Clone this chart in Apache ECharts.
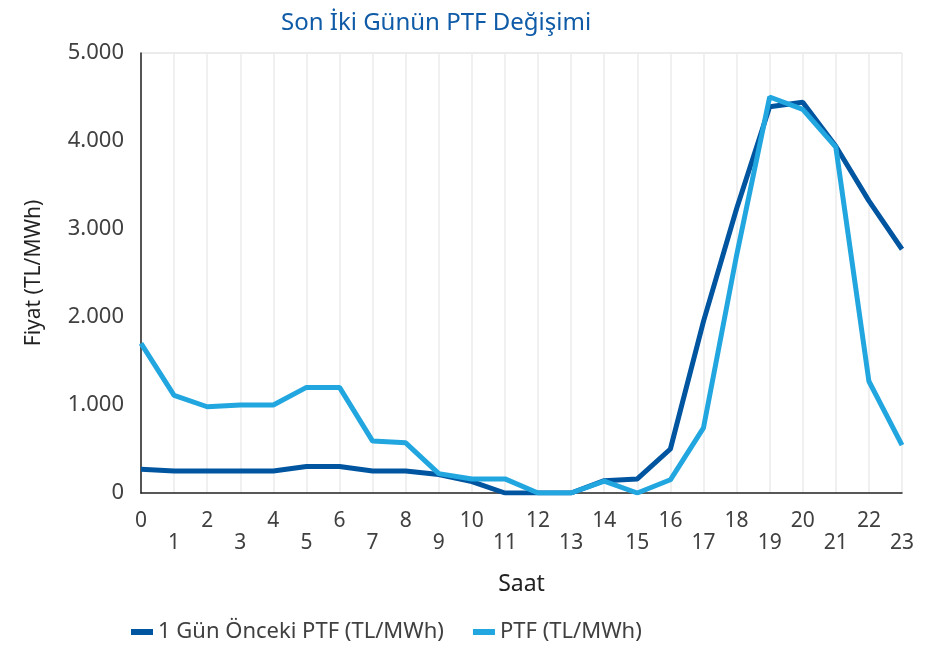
<!DOCTYPE html>
<html>
<head>
<meta charset="utf-8">
<script src="https://cdn.jsdelivr.net/npm/echarts@6/dist/echarts.min.js"></script>
<style>
  html, body { margin: 0; padding: 0; background: #fff; }
  #main { width: 941px; height: 648px; }
</style>
</head>
<body>
<div id="main"></div>
<script>
var hours = [];
for (var h = 0; h <= 23; h++) hours.push(String(h));

var oncekiPtf = [270, 250, 250, 250, 250, 300, 300, 250, 250, 210, 130, 0,
                 0, 0, 140, 160, 500, 1950, 3230, 4390, 4440, 3940, 3320, 2770];
var ptf = [1700, 1110, 980, 1000, 1000, 1200, 1200, 590, 570, 220, 160, 160,
           0, 0, 135, 0, 150, 740, 2700, 4500, 4360, 3930, 1270, 545];

var myChart = echarts.init(document.getElementById('main'));

var fontFam = 'Noto Sans';

var option = {
  animation: false,
  textStyle: { fontFamily: fontFam },
  title: {
    text: 'Son İki Günün PTF Değişimi',
    left: 276,
    top: 6,
    textStyle: { color: '#0f5ba7', fontSize: 24, fontWeight: 'normal', fontFamily: fontFam }
  },
  legend: {
    bottom: 0,
    left: 126,
    itemGap: 29,
    icon: 'rect',
    itemWidth: 22,
    itemHeight: 6,
    textStyle: { fontSize: 22, color: '#404040', fontFamily: fontFam },
    data: ['1 Gün Önceki PTF (TL/MWh)', 'PTF (TL/MWh)']
  },
  grid: { left: 141, right: 39, top: 53, bottom: 155, containLabel: false },
  xAxis: {
    type: 'category',
    data: hours,
    boundaryGap: false,
    name: 'Saat',
    nameLocation: 'middle',
    nameGap: 80,
    nameTextStyle: { fontSize: 23, color: '#222', fontFamily: fontFam },
    axisLine: { lineStyle: { color: '#222', width: 1.5 } },
    axisTick: { show: false },
    axisLabel: {
      interval: 0,
      fontSize: 21,
      color: '#404040',
      margin: 17,
      lineHeight: 22,
      formatter: function (v) { return Number(v) % 2 === 1 ? '\n' + v : v + '\n'; }
    },
    splitLine: { show: true, lineStyle: { color: '#ebebeb', width: 1.5 } }
  },
  yAxis: {
    type: 'value',
    min: 0,
    max: 5000,
    interval: 1000,
    name: 'Fiyat (TL/MWh)',
    nameLocation: 'middle',
    nameGap: 96,
    nameTextStyle: { fontSize: 21, color: '#222', fontFamily: fontFam },
    axisLine: { show: true, lineStyle: { color: '#222', width: 1.5 } },
    axisTick: { show: false },
    axisLabel: {
      fontSize: 22,
      color: '#404040',
      margin: 17,
      formatter: function (v) { return v === 0 ? '0' : (v / 1000).toFixed(0) + '.000'; }
    },
    splitLine: {
      show: true,
      lineStyle: { color: ['rgba(0,0,0,0)', 'rgba(0,0,0,0)', 'rgba(0,0,0,0)', 'rgba(0,0,0,0)', 'rgba(0,0,0,0)', '#ebebeb'], width: 2 }
    }
  },
  series: [
    {
      name: '1 Gün Önceki PTF (TL/MWh)',
      type: 'line',
      data: oncekiPtf,
      showSymbol: false,
      lineStyle: { color: '#0055a0', width: 5 },
      itemStyle: { color: '#0055a0' },
      z: 2
    },
    {
      name: 'PTF (TL/MWh)',
      type: 'line',
      data: ptf,
      showSymbol: false,
      lineStyle: { color: '#21a6df', width: 5 },
      itemStyle: { color: '#21a6df' },
      z: 3
    }
  ]
};

myChart.setOption(option);
</script>
</body>
</html>
